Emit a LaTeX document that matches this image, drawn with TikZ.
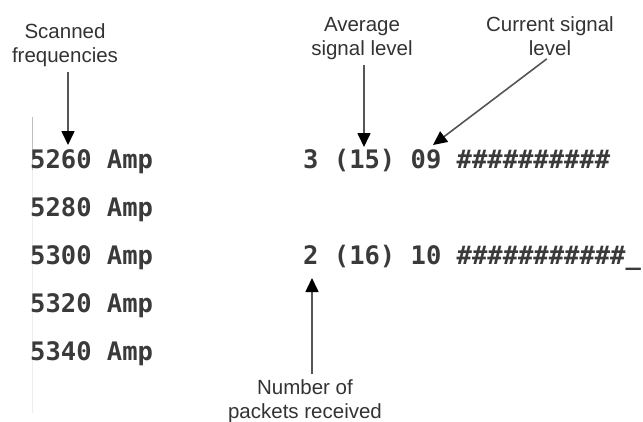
\documentclass[tikz,border=0pt]{standalone}
\usepackage{fontspec}
\setmainfont{Liberation Sans}
\newfontfamily\termfont{DejaVu Sans Mono}
\usetikzlibrary{arrows.meta,calc}
\definecolor{textgray}{HTML}{333333}
\definecolor{termgray}{HTML}{3A3A3A}
\definecolor{linegray}{HTML}{555555}
\tikzset{
  callout/.style={align=center, anchor=north, inner sep=1pt, text=textgray,
    font=\fontsize{20.5}{24}\selectfont},
  termline/.style={anchor=base west, inner sep=0pt, text=termgray,
    font=\termfont\bfseries\fontsize{25.5}{30}\selectfont},
  pointer/.style={draw=linegray, line width=1.6pt, shorten <=4pt,
    -{Triangle[length=14pt,width=13pt,color=black]}},
}

\begin{document}
\begin{tikzpicture}[x=1pt,y=-1pt]
    \pgfmathsetmacro{\rowsep}{48}
    \pgfmathsetmacro{\colL}{30}
    \pgfmathsetmacro{\colR}{303}
    \pgfmathsetmacro{\first}{168}
    \useasboundingbox (0,0) rectangle (643,421);

    % margin of the screen
    \draw[color=black!25, line width=0.8pt] (32,117) -- (32,170);
    \draw[color=black!7, line width=0.8pt] (32,170) -- (32,413);

    % scanned rows
    \foreach \f [count=\i from 0] in {5260,5280,5300,5320,5340}
      \node[termline] (f\f) at (\colL,\first+\i*\rowsep) {\f{} Amp};
    \node[termline] (row1) at (\colR,\first) {3 (15) 09 \#\#\#\#\#\#\#\#\#\#};
    \node[termline] (row3) at (\colR,\first+2*\rowsep) {2 (16) 10 \#\#\#\#\#\#\#\#\#\#\#\_};

    % callouts
    \node[callout] (scan) at (65,22) {Scanned\\frequencies};
    \node[callout] (avg) at (362,16) {Average\\signal level};
    \node[callout] (cur) at (550,15) {Current signal\\level};
    \node[callout] (num) at (305,378) {Number of\\packets received};

    \coordinate (ftip) at (68,145);
    \coordinate (atip) at (364,147);
    \coordinate (ctip) at (433,145);
    \coordinate (ntip) at (312,278);
    \draw[pointer] (scan.south -| ftip) -- (ftip);
    \draw[pointer] (avg.south -| atip) -- (atip);
    \draw[pointer] (cur.south) -- (ctip);
    \draw[pointer] (num.north -| ntip) -- (ntip);
\end{tikzpicture}
\end{document}
